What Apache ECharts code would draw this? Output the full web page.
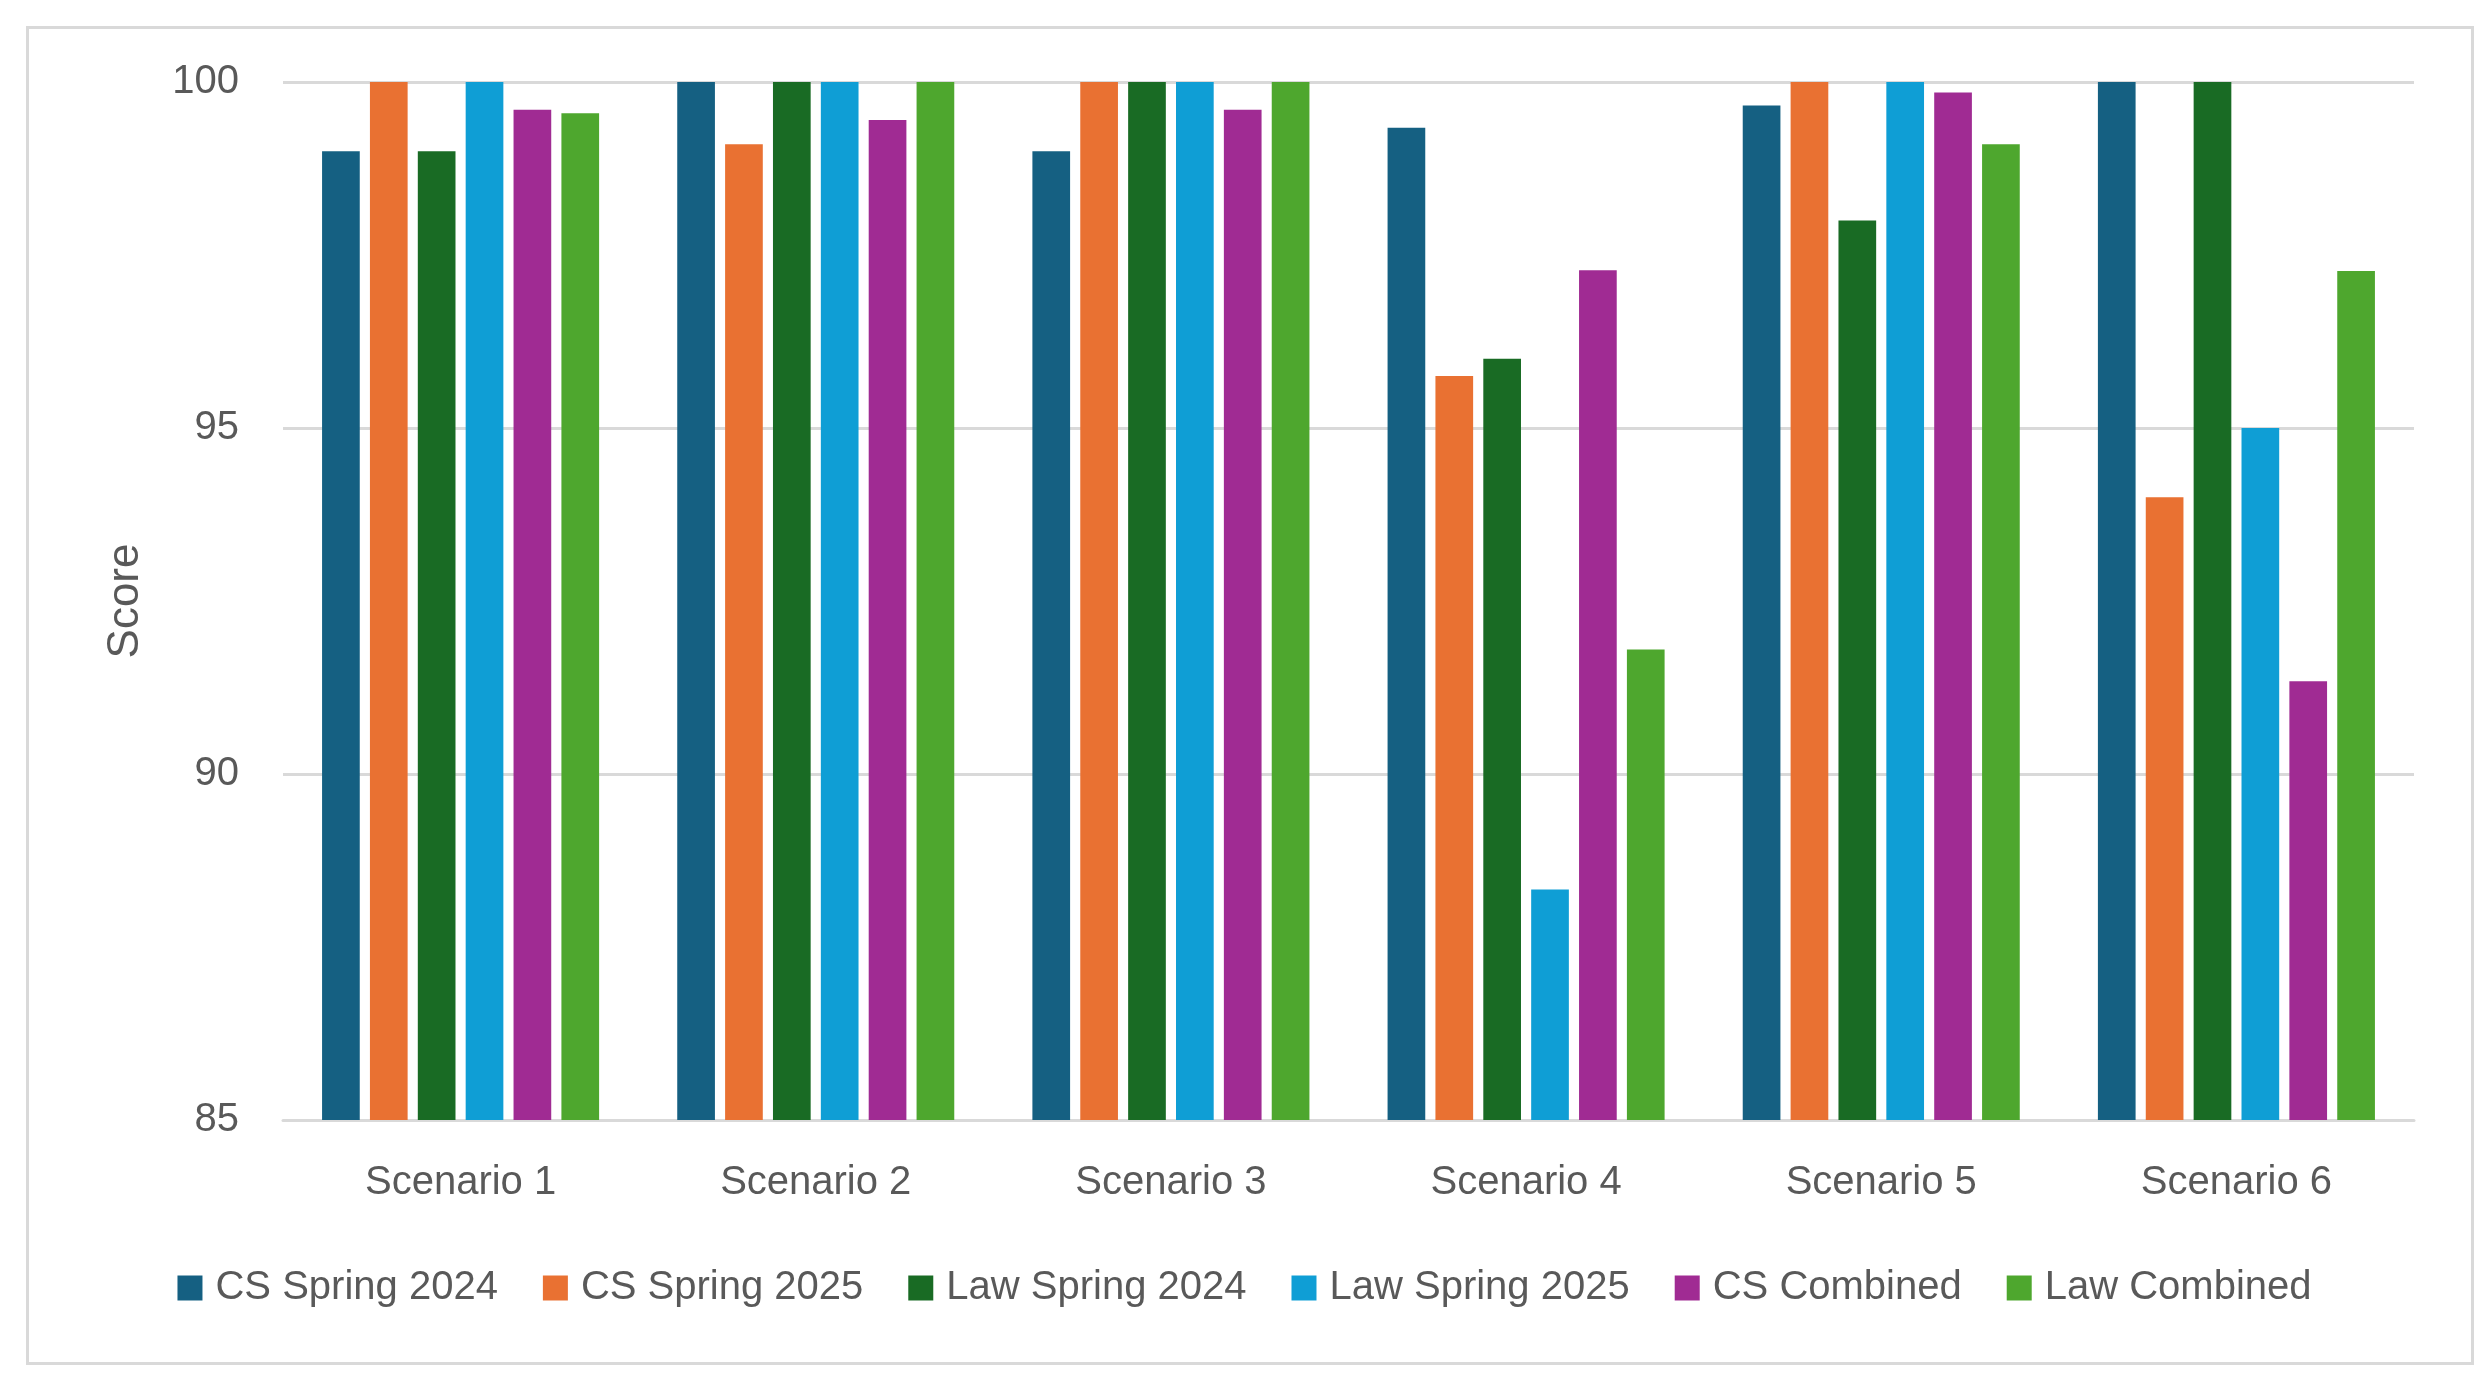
<!DOCTYPE html>
<html>
<head>
<meta charset="utf-8">
<script src="https://cdn.jsdelivr.net/npm/echarts@6/dist/echarts.min.js"></script>
<style>
html,body{margin:0;padding:0;background:#fff;}
#c{width:2489px;height:1386px;}
</style>
</head>
<body>
<div id="c"></div>
<script>
const categories = ['Scenario 1','Scenario 2','Scenario 3','Scenario 4','Scenario 5','Scenario 6'];
const seriesNames = ['CS Spring 2024','CS Spring 2025','Law Spring 2024','Law Spring 2025','CS Combined','Law Combined'];
const csSpring2024  = [99.0, 100, 99.0, 99.34, 99.66, 100];
const csSpring2025  = [100, 99.1, 100, 95.75, 100, 94.0];
const lawSpring2024 = [99.0, 100, 100, 96.0, 98.0, 100];
const lawSpring2025 = [100, 100, 100, 88.33, 100, 95.0];
const csCombined    = [99.6, 99.45, 99.6, 97.28, 99.85, 91.34];
const lawCombined   = [99.55, 100, 100, 91.8, 99.1, 97.27];
const yTicks = [85, 90, 95, 100];
const colors = ['#156082','#E97132','#196B24','#0F9ED5','#A02B93','#4EA72E'];

const allData = [csSpring2024, csSpring2025, lawSpring2024, lawSpring2025, csCombined, lawCombined];
const FONT = '"Liberation Sans", Arial, sans-serif';
const TXT = '#595959';

const chart = echarts.init(document.getElementById('c'), null, {renderer:'canvas'});
chart.setOption({
  animation:false,
  backgroundColor:'#fff',
  color: colors,
  graphic:[{
    type:'rect', left:25, top:25,
    shape:{width:2445, height:1336},
    style:{fill:'none', stroke:'#D9D9D9', lineWidth:3}
  }],
  grid:{left:283, right:75, top:82, bottom:266, containLabel:false},
  legend:{
    data: seriesNames,
    bottom: 73,
    left:'center',
    itemWidth:25, itemHeight:25, itemGap:45,
    icon:'rect',
    textStyle:{fontFamily:FONT, fontSize:40, color:TXT, padding:[0,0,0,8]}
  },
  xAxis:{
    type:'category',
    data: categories,
    axisLine:{show:true, lineStyle:{color:'#D9D9D9', width:3}},
    axisTick:{show:false},
    axisLabel:{fontFamily:FONT, fontSize:40, color:TXT, margin:43}
  },
  yAxis:{
    type:'value',
    min: yTicks[0], max: yTicks[yTicks.length-1], interval:5,
    name:'Score',
    nameLocation:'middle',
    nameGap:135,
    nameTextStyle:{fontFamily:FONT, fontSize:44, color:TXT},
    axisLine:{show:false},
    axisTick:{show:false},
    axisLabel:{fontFamily:FONT, fontSize:40, color:TXT, margin:44},
    splitLine:{lineStyle:{color:'#D9D9D9', width:3}}
  },
  series: seriesNames.map((n,i)=>({
    name:n, type:'bar', data: allData[i],
    barGap:'27%', barCategoryGap:'22%',
    itemStyle:{color:colors[i]}
  }))
});
</script>
</body>
</html>
